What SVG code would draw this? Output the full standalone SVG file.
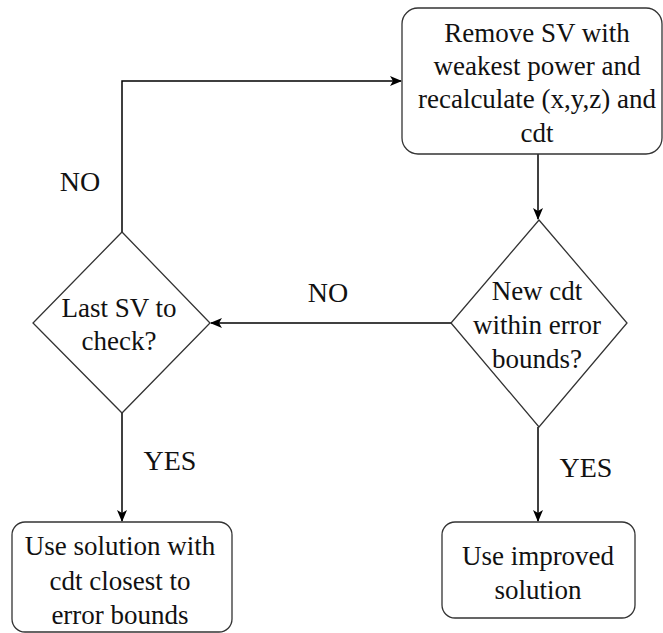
<svg xmlns="http://www.w3.org/2000/svg" width="663" height="633" viewBox="0 0 663 633">
<style>
.shape{fill:#fff;stroke:#333;stroke-width:1.3}
.t{font-size:27px;fill:#111;text-anchor:middle}
.lbl{font-size:28px;fill:#111;text-anchor:middle}
.edge{fill:none;stroke:#000;stroke-width:1.5}
</style>
<defs>
<marker id="arr" viewBox="0 0 12 10" refX="11" refY="5" markerWidth="12" markerHeight="10" markerUnits="userSpaceOnUse" orient="auto">
<path d="M0,0 L12,5 L0,10 L3,5 Z" fill="#000"/>
</marker>
</defs>
<rect width="663" height="633" fill="#fff"/>
<g font-family="Liberation Serif, serif">
<g id="connectors">
<path class="edge" d="M122,232 V81 H401" marker-end="url(#arr)"/>
<path class="edge" d="M538,154 V219" marker-end="url(#arr)"/>
<path class="edge" d="M451,323 H211" marker-end="url(#arr)"/>
<path class="edge" d="M122,413 V521" marker-end="url(#arr)"/>
<path class="edge" d="M538,427 V521" marker-end="url(#arr)"/>
<text class="lbl" x="80" y="191">NO</text>
<text class="lbl" x="328" y="302">NO</text>
<text class="lbl" x="170" y="470">YES</text>
<text class="lbl" x="586" y="477">YES</text>
</g>
<g id="remove">
<rect class="shape" x="402" y="8" width="260" height="146" rx="16"/>
<text class="t" x="537" y="42">Remove SV with</text>
<text class="t" x="537" y="75">weakest power and</text>
<text class="t" x="537" y="108">recalculate (x,y,z) and</text>
<text class="t" x="537" y="142">cdt</text>
</g>
<g id="newcdt">
<polygon class="shape" points="539,220 627,323 539,427 451,323"/>
<text class="t" x="537" y="300">New cdt</text>
<text class="t" x="537" y="334">within error</text>
<text class="t" x="537" y="368">bounds?</text>
</g>
<g id="lastsv">
<polygon class="shape" points="122,232 210,323 122,413 33,323"/>
<text class="t" x="119" y="317">Last SV to</text>
<text class="t" x="119" y="350">check?</text>
</g>
<g id="closest">
<rect class="shape" x="12" y="522" width="220" height="110" rx="13"/>
<text class="t" x="120" y="555">Use solution with</text>
<text class="t" x="120" y="590">cdt closest to</text>
<text class="t" x="120" y="624">error bounds</text>
</g>
<g id="improved">
<rect class="shape" x="442" y="522" width="193" height="96" rx="13"/>
<text class="t" x="538" y="565">Use improved</text>
<text class="t" x="538" y="599">solution</text>
</g>
</g>
</svg>
